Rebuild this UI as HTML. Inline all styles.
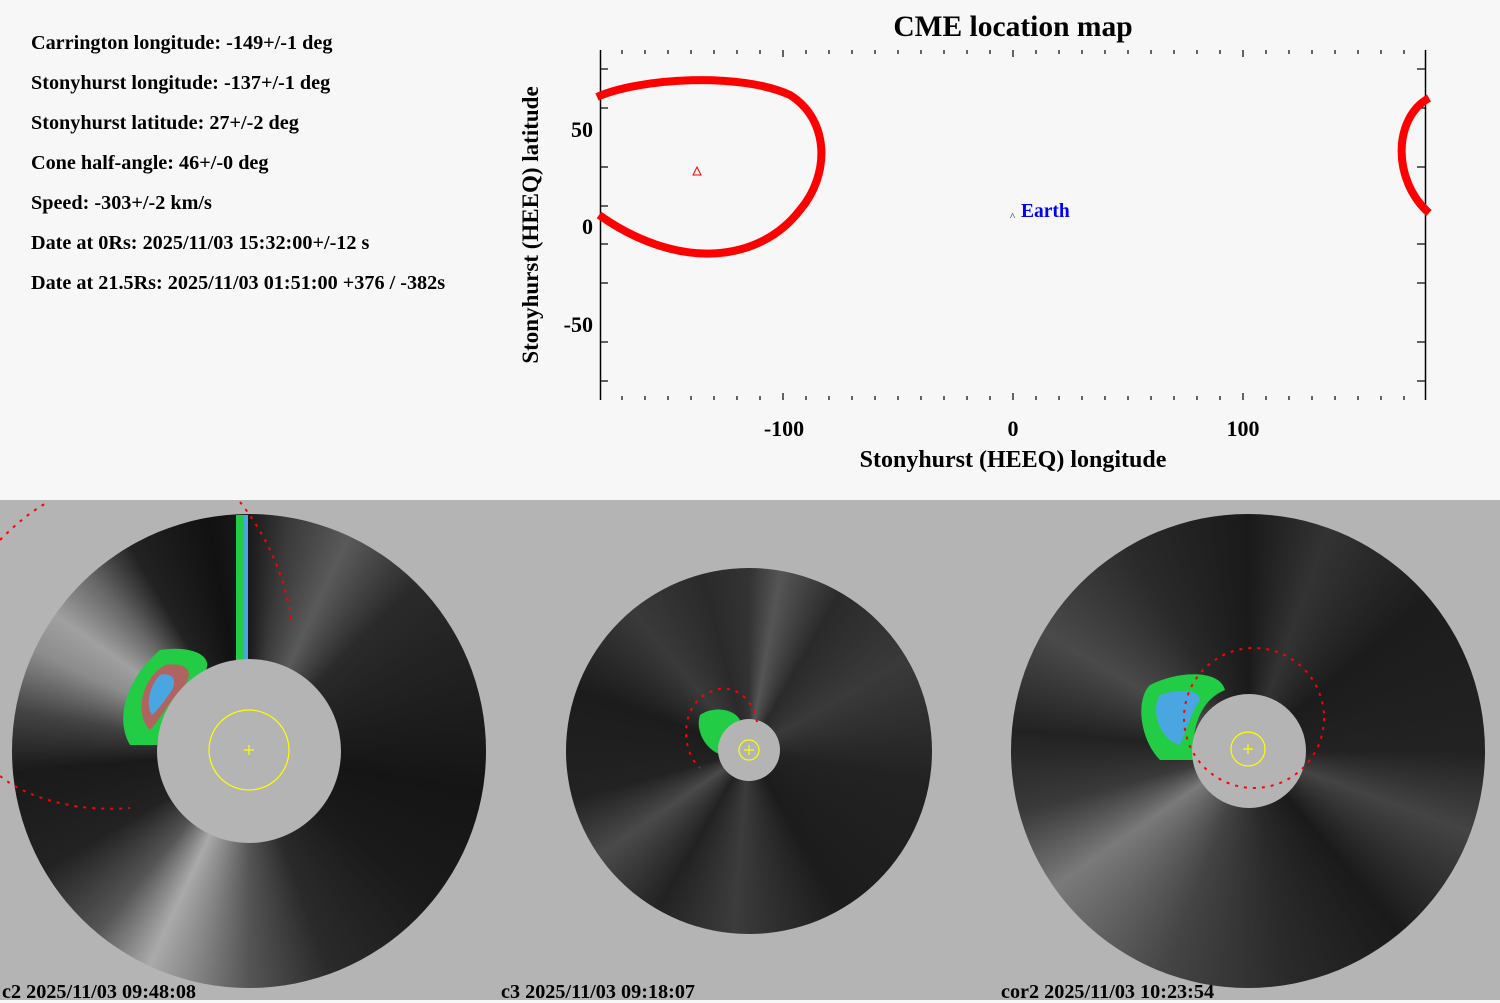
<!DOCTYPE html>
<html><head><meta charset="utf-8"><style>
html,body{margin:0;padding:0}
body{width:1500px;height:1000px;position:relative;overflow:hidden;background:#f7f7f7;font-family:"Liberation Serif",serif;font-weight:bold;color:#000}
.t{position:absolute;left:31px;font-size:20.2px;white-space:nowrap;line-height:22px}
#bot{position:absolute;left:0;top:500px;width:1500px;height:500px;background:#b4b4b4}
.disk{position:absolute;border-radius:50%}
.occ{position:absolute;border-radius:50%;background:#b4b4b4}
.lab{position:absolute;top:982px;font-size:20.2px;white-space:nowrap;line-height:20px}
</style></head><body>
<div class="t" style="top:32px">Carrington longitude: -149+/-1 deg</div>
<div class="t" style="top:72px">Stonyhurst longitude: -137+/-1 deg</div>
<div class="t" style="top:112px">Stonyhurst latitude: 27+/-2 deg</div>
<div class="t" style="top:152px">Cone half-angle: 46+/-0 deg</div>
<div class="t" style="top:192px">Speed: -303+/-2 km/s</div>
<div class="t" style="top:232px">Date at 0Rs: 2025/11/03 15:32:00+/-12 s</div>
<div class="t" style="top:272px">Date at 21.5Rs: 2025/11/03 01:51:00 +376 / -382s</div>

<svg width="1500" height="500" style="position:absolute;left:0;top:0" font-family="Liberation Serif, serif" font-weight="bold">
<text x="1013" y="36" font-size="29.5" text-anchor="middle">CME location map</text>
<g stroke="#000" stroke-width="1.5">
<line x1="600.5" y1="50" x2="600.5" y2="400"/>
<line x1="1425.5" y1="50" x2="1425.5" y2="400"/>
</g>
<g id="xt" stroke="#000" stroke-width="1.2"></g>
<g stroke="#000" stroke-width="1.2" id="yt"></g>
<g font-size="22" text-anchor="end">
<text x="593" y="137">50</text><text x="593" y="234">0</text><text x="593" y="332">-50</text>
</g>
<g font-size="22" text-anchor="middle">
<text x="784" y="436">-100</text><text x="1013" y="436">0</text><text x="1243" y="436">100</text>
</g>
<text x="1013" y="467" font-size="24" text-anchor="middle">Stonyhurst (HEEQ) longitude</text>
<text transform="translate(538,225) rotate(-90)" font-size="23" text-anchor="middle">Stonyhurst (HEEQ) latitude</text>
<g fill="none" stroke="#f00" stroke-width="8">
<path d="M597,97 C640,78 740,72 790,95 C830,120 830,175 800,210 C760,262 680,272 599,215"/>
<path d="M1429,98 C1393,118 1392,180 1429,213"/>
</g>
<path d="M697,167 L693,175 L701,175 Z" fill="none" stroke="#f00" stroke-width="1"/>
<text x="1010" y="220" font-size="11" fill="#00f" font-weight="normal">^</text>
<text x="1021" y="217" font-size="19.5" fill="#00f">Earth</text>
</svg>

<div id="bot"></div>
<div class="disk" style="left:12px;top:514px;width:474px;height:474px;background:conic-gradient(from 0deg,#1a1a1a 0deg,#3a3a3a 10deg,#5a5a5a 25deg,#2a2a2a 45deg,#202020 70deg,#151515 100deg,#1a1a1a 130deg,#2a2a2a 160deg,#555 180deg,#8a8a8a 195deg,#aaa 205deg,#555 220deg,#222 240deg,#1a1a1a 265deg,#444 280deg,#8c8c8c 295deg,#a0a0a0 305deg,#666 318deg,#222 330deg,#111 350deg,#1a1a1a 360deg)"></div>
<div class="disk" style="left:566px;top:568px;width:366px;height:366px;background:conic-gradient(from 0deg,#333 0deg,#555 10deg,#2a2a2a 30deg,#3a3a3a 60deg,#222 100deg,#1c1c1c 150deg,#3c3c3c 185deg,#222 210deg,#4a4a4a 235deg,#222 255deg,#1c1c1c 290deg,#3a3a3a 320deg,#2a2a2a 345deg,#333 360deg)"></div>
<div class="disk" style="left:1011px;top:514px;width:474px;height:474px;background:conic-gradient(from 0deg,#1a1a1a 0deg,#333 20deg,#1c1c1c 50deg,#222 90deg,#444 110deg,#1a1a1a 140deg,#2a2a2a 170deg,#444 200deg,#7a7a7a 235deg,#3a3a3a 255deg,#222 275deg,#4a4a4a 300deg,#2a2a2a 330deg,#1a1a1a 360deg)"></div>

<svg width="1500" height="500" style="position:absolute;left:0;top:500px">
<path d="M160,150 C190,145 215,155 205,172 C180,190 160,220 157,245 L130,245 C115,220 125,180 160,150Z" fill="#22cc44"/>
<path d="M165,165 C185,162 195,170 185,185 C170,200 160,220 150,230 C135,215 140,180 165,165Z" fill="#d44a6a" opacity="0.8"/>
<path d="M160,175 C170,172 178,178 172,190 C165,200 158,210 152,215 C145,205 150,185 160,175Z" fill="#4aa6e0"/>
<rect x="236" y="15" width="12" height="145" fill="#22cc44"/>
<rect x="244" y="15" width="4" height="145" fill="#4aa6e0"/>
<path d="M1150,185 C1180,170 1220,170 1225,190 C1200,200 1190,230 1195,260 L1160,260 C1140,240 1135,200 1150,185Z" fill="#22cc44"/>
<path d="M1160,195 C1180,188 1200,190 1200,200 C1190,215 1185,235 1180,245 C1160,240 1150,210 1160,195Z" fill="#4aa6e0"/>
<path d="M700,215 C715,205 735,210 740,220 C730,230 725,245 722,255 C705,250 695,230 700,215Z" fill="#22cc44"/>
<!-- occulters -->
<circle cx="249" cy="251" r="92" fill="#b4b4b4"/>
<circle cx="749" cy="250" r="31" fill="#b4b4b4"/>
<circle cx="1249" cy="251" r="57" fill="#b4b4b4"/>
<g fill="none" stroke="#f00" stroke-width="2" stroke-dasharray="3 6">
<path d="M240,2 C262,30 285,70 292,125"/>
<path d="M0,276 C30,300 80,312 130,308"/>
<path d="M0,40 C15,25 30,12 48,2"/>
<path d="M757,222 C752,195 730,182 710,192 C680,205 680,250 700,268"/>
<circle cx="1254" cy="218" r="70"/>
</g>
<g fill="none" stroke="#ff0" stroke-width="1.2">
<circle cx="249" cy="250" r="40"/><path d="M244,250h10M249,245v10"/>
<circle cx="749" cy="250" r="10"/><path d="M744,250h10M749,245v10"/>
<circle cx="1248" cy="249" r="17"/><path d="M1243,249h10M1248,244v10"/>
</g>
</svg>
<div class="lab" style="left:2px">c2 2025/11/03 09:48:08</div>
<div class="lab" style="left:501px">c3 2025/11/03 09:18:07</div>
<div class="lab" style="left:1001px">cor2 2025/11/03 10:23:54</div>
<script>
var ns="http://www.w3.org/2000/svg",xt=document.getElementById('xt'),yt=document.getElementById('yt');
function L(g,a,b,c,d){var l=document.createElementNS(ns,'line');l.setAttribute('x1',a);l.setAttribute('y1',b);l.setAttribute('x2',c);l.setAttribute('y2',d);g.appendChild(l);}
for(var i=-17;i<=17;i++){var x=1013+i*23;var m=(i%10==0);L(xt,x,50,x,m?57:54);L(xt,x,400,x,m?393:396);}
[69,108,167,206,244,283,342,381].forEach(function(y){L(yt,600,y,608,y);L(yt,1417,y,1425,y);});
</script>
</body></html>
